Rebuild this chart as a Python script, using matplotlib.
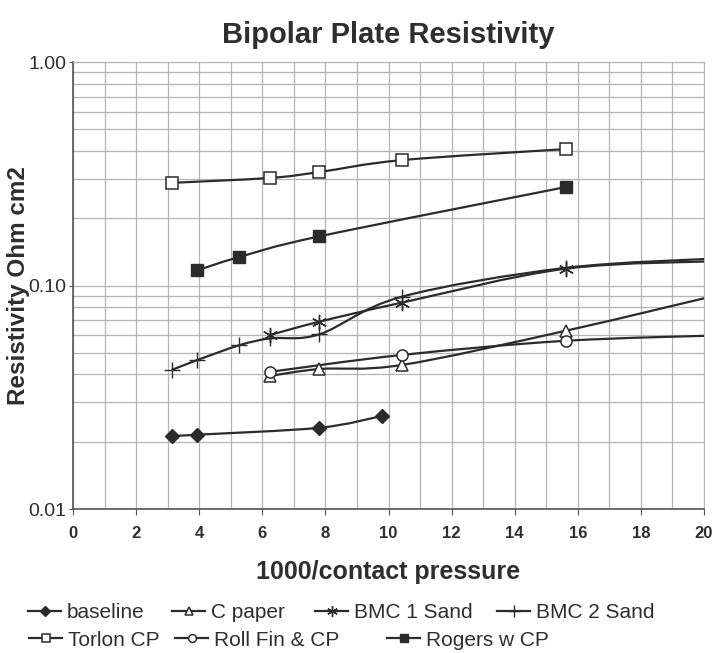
import matplotlib.pyplot as plt
import numpy as np
from matplotlib.path import Path
from matplotlib.patches import PathPatch
from matplotlib.lines import Line2D
from matplotlib.ticker import MultipleLocator, LogLocator, FixedLocator, FuncFormatter

plt.rcParams['font.family'] = ['Liberation Sans', 'DejaVu Sans']

# data (x = 1000/contact pressure, y = resistivity Ohm cm2)
baseline_x = [3.13, 3.94, 7.81, 9.80]
baseline_y = [0.0212, 0.0215, 0.0231, 0.0261]

cpaper_x = [6.25, 7.81, 10.42, 15.63, 20.83]
cpaper_y = [0.0394, 0.0423, 0.0441, 0.0628, 0.0935]

bmc1_x = [6.25, 7.81, 10.42, 15.63, 20.83]
bmc1_y = [0.0601, 0.0689, 0.0838, 0.119, 0.129]

bmc2_x = [3.13, 3.94, 5.26, 6.25, 7.81, 10.42, 15.63, 20.83]
bmc2_y = [0.0419, 0.0464, 0.0540, 0.0580, 0.0605, 0.0891, 0.120, 0.133]

torlon_x = [3.13, 6.25, 7.81, 10.42, 15.63]
torlon_y = [0.288, 0.303, 0.322, 0.364, 0.408]

rollfin_x = [6.25, 10.42, 15.63, 20.83]
rollfin_y = [0.0411, 0.0489, 0.0566, 0.0600]

rogers_x = [3.94, 5.26, 7.81, 15.63]
rogers_y = [0.117, 0.134, 0.166, 0.276]

LC = '#2b2b2b'
TC = '#2e2e2e'


def smooth_path(xs, ys):
    # excel-like smoothed line: cubic bezier through the points, in (x, log y)
    p = np.column_stack([xs, np.log10(ys)])
    n = len(p)
    verts = [p[0]]
    codes = [Path.MOVETO]
    for i in range(n - 1):
        p0 = p[i - 1] if i > 0 else p[i]
        p1, p2 = p[i], p[i + 1]
        p3 = p[i + 2] if i + 2 < n else p[i + 1]
        c1 = p1 + (p2 - p0) / 6.0
        c2 = p2 - (p3 - p1) / 6.0
        verts += [c1, c2, p2]
        codes += [Path.CURVE4] * 3
    v = np.array(verts)
    v[:, 1] = 10 ** v[:, 1]
    return Path(v, codes)


fig = plt.figure(figsize=(7.13, 6.53), dpi=100)
ax = fig.add_axes([0.1024, 0.2205, 0.885, 0.6845])

series = [
    ('baseline', baseline_x, baseline_y, dict(marker='D', ms=7, mfc=LC, mec=LC)),
    ('C paper', cpaper_x, cpaper_y, dict(marker='^', ms=9, mfc='white', mec=LC, mew=1.1)),
    ('BMC 1 Sand', bmc1_x, bmc1_y, dict(marker=(6, 2, 0), ms=11, mec=LC, mew=1.0)),
    ('BMC 2 Sand', bmc2_x, bmc2_y, dict(marker='+', ms=12, mec=LC, mew=1.0)),
    ('Torlon CP', torlon_x, torlon_y, dict(marker='s', ms=8, mfc='white', mec=LC, mew=1.1)),
    ('Roll Fin & CP', rollfin_x, rollfin_y, dict(marker='o', ms=8, mfc='white', mec=LC, mew=1.1)),
    ('Rogers w CP', rogers_x, rogers_y, dict(marker='s', ms=8, mfc=LC, mec=LC)),
]

handles = []
for name, xs, ys, mk in series:
    patch = PathPatch(smooth_path(xs, ys), fill=False, edgecolor=LC, lw=1.6, zorder=3)
    ax.add_patch(patch)
    ax.plot(xs, ys, ls='none', zorder=4, **mk)
    hk = {k: (v * 0.7 if k == 'ms' else v) for k, v in mk.items()}
    handles.append(Line2D([], [], color=LC, lw=1.6, **hk))

ax.set_yscale('log')
ax.set_xlim(0, 20)
ax.set_ylim(0.01, 1.0)

ax.xaxis.set_major_locator(MultipleLocator(2))
ax.xaxis.set_minor_locator(MultipleLocator(1))
ax.yaxis.set_major_locator(FixedLocator([0.01, 0.1, 1.0]))
ax.yaxis.set_minor_locator(LogLocator(base=10, subs=np.arange(2, 10)))
ax.yaxis.set_major_formatter(FuncFormatter(lambda v, p: '%.2f' % v))
ax.yaxis.set_minor_formatter(FuncFormatter(lambda v, p: ''))

ax.grid(True, which='both', color='#b4b4b4', lw=0.9)
ax.set_axisbelow(True)
for s in ['top', 'right']:
    ax.spines[s].set_color('#b4b4b4')
for s in ['left', 'bottom']:
    ax.spines[s].set_color('#555555')
    ax.spines[s].set_linewidth(1.2)

ax.tick_params(axis='x', which='major', length=4, color='#555555', labelsize=12, pad=8,
               labelcolor=TC)
ax.tick_params(axis='x', which='minor', length=0)
ax.tick_params(axis='y', which='major', length=3, color='#555555', labelsize=14, pad=2,
               labelcolor=TC)
ax.tick_params(axis='y', which='minor', length=0)
for t in ax.get_xticklabels():
    t.set_fontweight('bold')

ax.set_title('Bipolar Plate Resistivity', fontsize=21, fontweight='bold', color=TC, pad=14)
ax.set_xlabel('1000/contact pressure', fontsize=18, fontweight='bold', color=TC, labelpad=14)
ax.set_ylabel('Resistivity Ohm cm2', fontsize=17.5, fontweight='bold', color=TC)
ax.yaxis.set_label_coords(-0.068, 0.5)

# legend entries placed like the original (two rows, uneven spacing)
leg_pos = [(28, 613), (172, 613), (315, 613), (497, 613),
           (29, 640), (175, 640), (387, 640)]
for h, (name, *_), (px, py) in zip(handles, series, leg_pos):
    fig.legend([h], [name], loc='center left', bbox_to_anchor=(px / 713, 1 - py / 653),
               frameon=False, fontsize=15, handlelength=1.6, handletextpad=0.25,
               borderpad=0, borderaxespad=0, labelcolor=TC)

fig.savefig('out.png', dpi=100)
